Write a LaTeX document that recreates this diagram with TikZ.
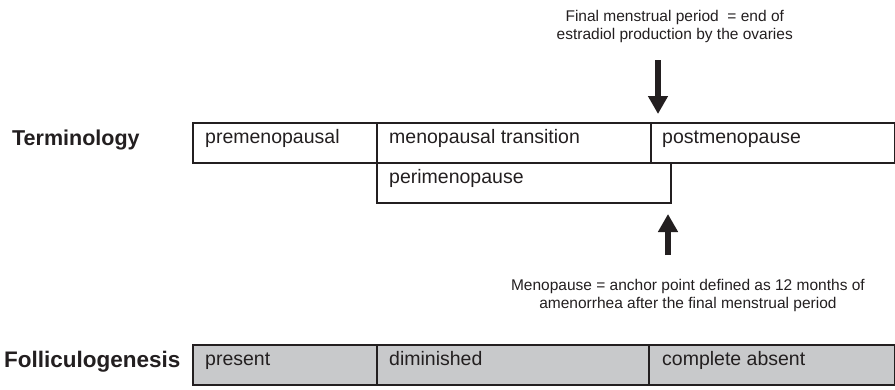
\documentclass[tikz,border=0pt]{standalone}
\usepackage{fontspec}
\setmainfont{Liberation Sans}
\usetikzlibrary{arrows.meta}
\definecolor{ink}{HTML}{231F20}
\definecolor{cellgray}{HTML}{C8C9CB}
\begin{document}
\begin{tikzpicture}[x=1pt,y=-1pt,
  rule/.style={draw=ink, line width=1.8pt},
  celltext/.style={anchor=base west, inner sep=0pt, text=ink, font=\fontsize{19.5}{22}\selectfont},
  rowlabel/.style={anchor=base west, inner sep=0pt, text=ink, font=\fontsize{21.5}{24}\selectfont\bfseries},
  note/.style={inner sep=0pt, text=ink, align=center, font=\fontsize{15.5}{18}\selectfont},
  bigarrow/.style={draw=ink, line width=6pt, -{Triangle[width=19pt,length=18pt]}}
]
\useasboundingbox (0,0) rectangle (895,389);

% Terminology row
\node[rowlabel] (term) at (12,145) {Terminology};
\draw[rule] (193,123) rectangle (895,163);
\draw[rule] (377,123) -- (377,163);
\draw[rule] (651,123) -- (651,163);
\draw[rule] (377,163) -- (377,203) -- (671,203) -- (671,162);
\node[celltext] (pre) at (205,143) {premenopausal};
\node[celltext] (trans) at (389,143) {menopausal transition};
\node[celltext] (post) at (662,143) {postmenopause};
\node[celltext] (peri) at (389,183) {perimenopause};

% Notes and arrows
\node[note, anchor=north east] (fmp) at (793,10) {Final menstrual period\ \ = end of\\estradiol production by the ovaries};
\coordinate (dtop) at (658,60);
\coordinate (dtip) at (658,114);
\draw[bigarrow] (dtop) -- (dtip);
\coordinate (ubot) at (668,255);
\coordinate (utip) at (668,214);
\draw[bigarrow] (ubot) -- (utip);
\node[note, anchor=north east] (meno) at (865,279) {Menopause = anchor point defined as 12 months of\\amenorrhea after the final menstrual period};

% Folliculogenesis row
\node[rowlabel, font=\fontsize{22.5}{25}\selectfont\bfseries] (foll) at (4,367) {Folliculogenesis};
\draw[rule, fill=cellgray] (193,345) rectangle (895,385);
\draw[rule] (377,345) -- (377,385);
\draw[rule] (649,345) -- (649,385);
\node[celltext] (pres) at (205,365) {present};
\node[celltext] (dimi) at (389,365) {diminished};
\node[celltext] (abs) at (662,365) {complete absent};
\end{tikzpicture}
\end{document}
